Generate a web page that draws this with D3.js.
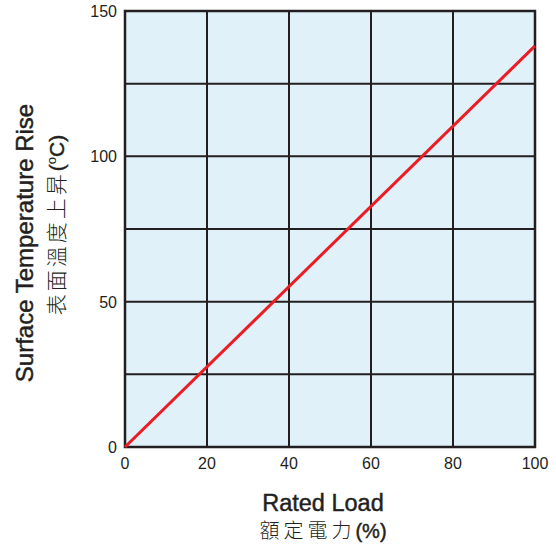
<!DOCTYPE html>
<html>
<head>
<meta charset="utf-8">
<script src="https://cdn.jsdelivr.net/npm/d3@7"></script>
<style>
  body { margin: 0; background: #fff; }
  text { font-family: "Liberation Sans", Arial, sans-serif; fill: #231f20; }
  .title { stroke: #231f20; stroke-width: 0.45px; }
</style>
</head>
<body>
<script>
// chart data
var loadPct = [0, 100];          // rated load (%)
var tempRise = [0, 138];         // surface temperature rise (deg C)
var xTicks = [0, 20, 40, 60, 80, 100];
var yTicks = [0, 50, 100, 150];
var yGrid = [0, 25, 50, 75, 100, 125, 150];

var width = 556, height = 545;
var margin = {left: 125, top: 11, right: 21, bottom: 98};

var svg = d3.select("body").append("svg")
    .attr("width", width)
    .attr("height", height);

var x = d3.scaleLinear().domain([0, 100]).range([margin.left, width - margin.right]);
var y = d3.scaleLinear().domain([0, 150]).range([height - margin.bottom, margin.top]);

// plot background
svg.append("rect")
    .attr("x", x(0))
    .attr("y", y(150))
    .attr("width", x(100) - x(0))
    .attr("height", y(0) - y(150))
    .style("fill", "#e0f1f9");

// grid
svg.append("g").selectAll("line").data(xTicks).join("line")
    .attr("x1", function (d) { return x(d); })
    .attr("x2", function (d) { return x(d); })
    .attr("y1", y(0))
    .attr("y2", y(150))
    .style("stroke", "#231f20")
    .style("stroke-width", 2);

svg.append("g").selectAll("line").data(yGrid).join("line")
    .attr("x1", x(0))
    .attr("x2", x(100))
    .attr("y1", function (d) { return y(d); })
    .attr("y2", function (d) { return y(d); })
    .style("stroke", "#231f20")
    .style("stroke-width", 2);

// outer frame
svg.append("rect")
    .attr("x", x(0))
    .attr("y", y(150))
    .attr("width", x(100) - x(0))
    .attr("height", y(0) - y(150))
    .style("fill", "none")
    .style("stroke", "#231f20")
    .style("stroke-width", 2.5);

// tick labels
svg.append("g").selectAll("text").data(xTicks).join("text")
    .attr("x", function (d) { return x(d); })
    .attr("y", y(0) + 22)
    .attr("text-anchor", "middle")
    .style("font-size", "16px")
    .text(function (d) { return d; });

svg.append("g").selectAll("text").data(yTicks).join("text")
    .attr("x", x(0) - 8)
    .attr("y", function (d) { return y(d) + 6; })
    .attr("text-anchor", "end")
    .style("font-size", "16px")
    .text(function (d) { return d; });

// the line
var line = d3.line()
    .x(function (d) { return x(d[0]); })
    .y(function (d) { return y(d[1]); });

svg.append("path")
    .datum(d3.zip(loadPct, tempRise))
    .attr("d", line)
    .style("fill", "none")
    .style("stroke", "#ec1c24")
    .style("stroke-width", 3);

// axis titles
svg.append("text")
    .attr("class", "title")
    .attr("x", 323)
    .attr("y", 511)
    .attr("text-anchor", "middle")
    .style("font-size", "23.5px")
    .text("Rated Load");

var xt2 = svg.append("text")
    .attr("x", 323)
    .attr("y", 538)
    .attr("text-anchor", "middle")
    .style("font-size", "20px");
xt2.append("tspan").style("font-family", "'Noto Sans CJK TC'").style("font-weight", 300)
    .style("letter-spacing", "4px").text("額定電力");
xt2.append("tspan").attr("class", "title").text("(%)");

svg.append("text")
    .attr("class", "title")
    .attr("transform", "translate(33,243) rotate(-90)")
    .attr("text-anchor", "middle")
    .style("font-size", "24px")
    .text("Surface Temperature Rise");

var yt2 = svg.append("text")
    .attr("transform", "translate(64,225) rotate(-90)")
    .attr("text-anchor", "middle")
    .style("font-size", "21px");
yt2.append("tspan").style("font-family", "'Noto Sans CJK TC'").style("font-weight", 300)
    .style("letter-spacing", "3px").text("表面溫度上昇");
yt2.append("tspan").attr("class", "title").text("(");
yt2.append("tspan").attr("dy", -8).style("font-size", "13px").text("o");
yt2.append("tspan").attr("class", "title").attr("dy", 8).text("C)");
</script>
</body>
</html>
